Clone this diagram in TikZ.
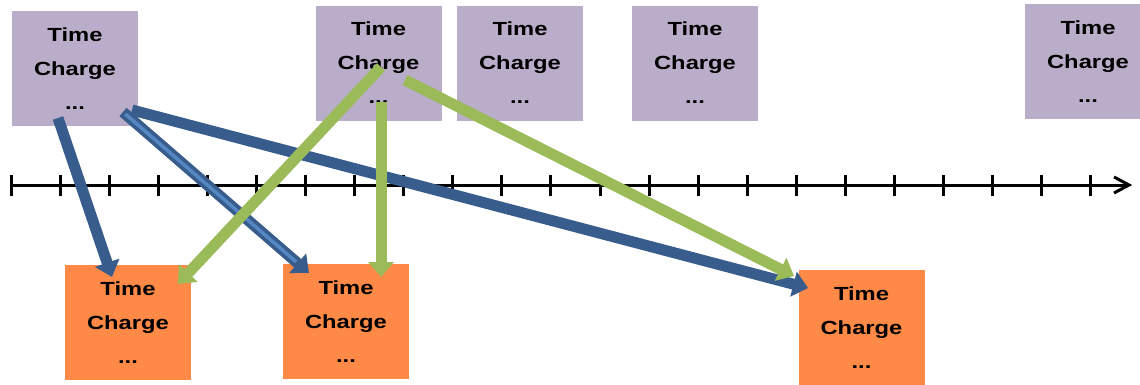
\documentclass[tikz,border=0pt]{standalone}
\usepackage{fontspec}
\usepackage{graphicx}
\setmainfont{Liberation Sans}
\usetikzlibrary{arrows.meta}
\definecolor{boxpurple}{RGB}{186,173,201}
\definecolor{boxorange}{RGB}{255,137,70}
\definecolor{arrblue}{RGB}{56,93,140}
\definecolor{arrlight}{RGB}{85,135,195}
\definecolor{arrgreen}{RGB}{155,187,89}
\newcommand{\widetxt}[1]{\scalebox{1.25}[1]{#1}}
\newcommand{\tcbody}{\widetxt{Time}\\\widetxt{Charge}\\\widetxt{...}}
\tikzset{
  card/.style={minimum width=126pt, minimum height=115pt, inner sep=0pt, align=center,
    font=\fontsize{19}{34}\selectfont\bfseries},
  past/.style={card, fill=boxpurple},
  future/.style={card, fill=boxorange},
  link/.style={line width=11pt, -{Triangle[length=15pt,width=25pt]}},
  bluelink/.style={link, draw=arrblue},
  greenlink/.style={link, draw=arrgreen},
  tick/.style={line width=3pt}
}
\begin{document}
\begin{tikzpicture}[x=1pt,y=-1pt]
\useasboundingbox (0,0) rectangle (1140,384);
% top (purple) boxes
\node[past] (t1) at (75,68.5) {\tcbody};
\node[past] (t2) at (378.5,63) {\tcbody};
\node[past] (t3) at (520,63) {\tcbody};
\node[past] (t4) at (695,63) {\tcbody};
\node[past] (t5) at (1088,61.5) {\tcbody};
% bottom (orange) boxes
\node[future] (o1) at (128,322.5) {\tcbody};
\node[future] (o2) at (346,321.5) {\tcbody};
\node[future] (o3) at (861.5,327.5) {\tcbody};
% time axis
\draw[line width=3pt] (10,185) -- (1128,185);
\draw[line width=3pt, line join=miter] (1114,177) -- (1129,185) -- (1114,193);
\foreach \i in {0,...,22} {
  \draw[tick] ({11+49.09*\i},175) -- ({11+49.09*\i},196);
}
% arrow end points
\coordinate (b1s) at (58,118);
\coordinate (b1e) at (112,277);
\coordinate (b2s) at (123,112);
\coordinate (b2e) at (309,273);
\coordinate (b3s) at (132,110);
\coordinate (b3e) at (808,288);
\coordinate (g1s) at (381,67);
\coordinate (g1e) at (178,284);
\coordinate (g2s) at (381,102);
\coordinate (g2e) at (381,277);
\coordinate (g3s) at (405,80);
\coordinate (g3e) at (794,276);
% blue arrows
\draw[bluelink] (b1s) -- (b1e);
\draw[bluelink] (b3s) -- (b3e);
\draw[bluelink] (b2s) -- (b2e);
\draw[line width=3.5pt, arrlight, shorten >=17pt, shorten <=3pt] (b2s) -- (b2e);
% green arrows
\draw[greenlink] (g1s) -- (g1e);
\draw[greenlink] (g2s) -- (g2e);
\draw[greenlink] (g3s) -- (g3e);
\end{tikzpicture}
\end{document}
